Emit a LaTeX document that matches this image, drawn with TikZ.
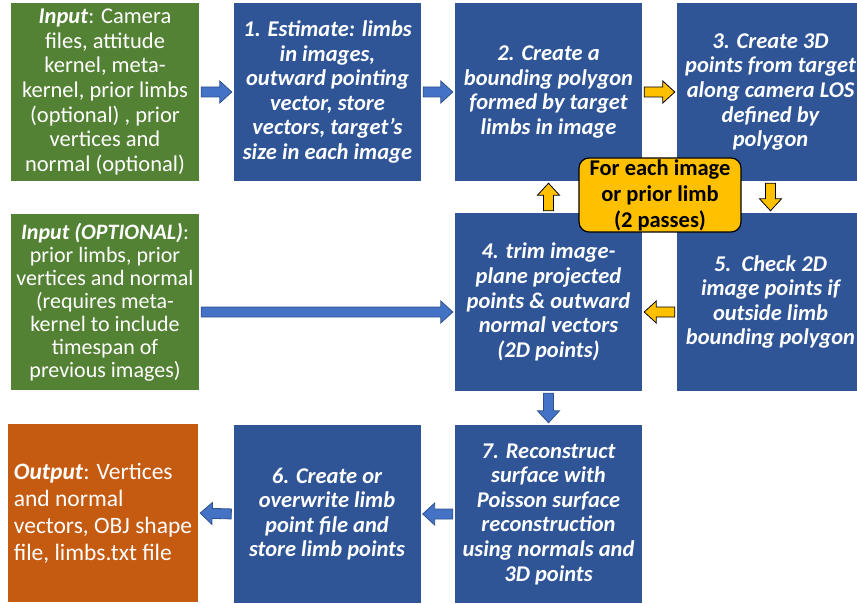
\documentclass[tikz,border=0pt]{standalone}
\usepackage{fontspec}
\setmainfont{Carlito}
\usetikzlibrary{calc}

\definecolor{azulcaixa}{HTML}{2F5597}
\definecolor{verdeentrada}{HTML}{548235}
\definecolor{laranjasaida}{HTML}{C55A11}
\definecolor{amarelo}{HTML}{FFC000}
\definecolor{azulseta}{HTML}{4472C4}
\definecolor{azulborda}{HTML}{2F528F}

\tikzset{
    caixa/.style={rectangle, fill=azulcaixa, text=white, inner sep=0pt,
        minimum width=187pt, minimum height=178pt, align=center,
        font=\bfseries\itshape\fontsize{22.5}{24.6}\selectfont},
    entrada/.style={caixa, fill=verdeentrada, minimum width=188pt,
        font=\fontsize{22.5}{24.6}\selectfont},
    saida/.style={rectangle, fill=laranjasaida, text=white, inner sep=0pt,
        minimum width=190pt, minimum height=178pt, align=left,
        font=\fontsize{23.5}{27}\selectfont},
    laco/.style={rectangle, rounded corners=10pt, fill=amarelo, draw=black,
        line width=1.2pt, minimum width=162pt, minimum height=74pt,
        inner sep=0pt, align=center, font=\bfseries\fontsize{22.5}{26}\selectfont},
    % seta em bloco entre duas caixas
    bloco/.style={to path={
        ($(\tikztostart)!2pt!(\tikztotarget)$) coordinate (ba)
        ($(\tikztotarget)!2pt!(\tikztostart)$) coordinate (bb)
        ($(bb)!12pt!(ba)$) coordinate (bc)
        ($(ba)!5pt!90:(bb)$) -- ($(bc)!5pt!90:(bb)$) -- ($(bc)!11pt!90:(bb)$)
        -- (bb) -- ($(bc)!11pt!-90:(bb)$) -- ($(bc)!5pt!-90:(bb)$)
        -- ($(ba)!5pt!-90:(bb)$) -- cycle}},
    setaazul/.style={bloco, draw=azulborda, fill=azulseta, line width=0.8pt},
    setaamarela/.style={bloco, draw=black, fill=amarelo, line width=0.8pt}
}

\begin{document}
\begin{tikzpicture}[x=1pt, y=-1pt]
    \useasboundingbox (0,0) rectangle (857,604);
    \clip (0,0) rectangle (857,604);

    % Entradas
    \node[entrada] (in1) at (105,92) {\textbf{\textit{Input}}: Camera\\ files, attitude\\ kernel, meta-\\ kernel, prior limbs\\ (optional) , prior\\ vertices and\\ normal (optional)};
    \node[entrada, minimum height=176pt, font=\fontsize{22}{23}\selectfont] (in2) at (105,302) {\textbf{\textit{Input (OPTIONAL)}}:\\ prior limbs, prior\\ vertices and normal\\ (requires meta-\\ kernel to include\\ timespan of\\ previous images)};

    % Passos
    \node[caixa] (s1) at (327.5,92) {1. Estimate: limbs\\ in images,\\ outward pointing\\ vector, store\\ vectors, target’s\\ size in each image};
    \node[caixa] (s2) at (548.5,92) {2. Create a\\ bounding polygon\\ formed by target\\ limbs in image};
    \node[caixa] (s3) at (770.5,92) {3. Create 3D\\ points from target\\ along camera LOS\\ defined by\\ polygon};
    \node[caixa] (s4) at (548.5,302) {4. trim image-\\ plane projected\\ points \& outward\\ normal vectors\\ (2D points)};
    \node[caixa] (s5) at (770.5,302) {5.\ \ Check 2D\\ image points if\\ outside limb\\ bounding polygon};
    \node[caixa] (s6) at (327,514) {6. Create or\\ overwrite limb\\ point file and\\ store limb points};
    \node[caixa] (s7) at (548.5,514) {7. Reconstruct\\ surface with\\ Poisson surface\\ reconstruction\\ using normals and\\ 3D points};

    % Saida
    \node[saida] (out) at (103,513) {\textbf{\textit{Output}}: Vertices\\ and normal\\ vectors, OBJ shape\\ file, limbs.txt file};

    % Setas azuis
    \draw[setaazul] (in1.east) to (s1.west);
    \draw[setaazul] (s1.east) to (s2.west);
    \draw[setaazul] ([yshift=-10pt]in2.east) to ([yshift=-10pt]s4.west);
    \draw[setaazul] (s4.south) to (s7.north);
    \draw[setaazul] (s7.west) to (s6.east);
    \draw[setaazul] (s6.west) to (out.east);

    % Laco por imagem
    \draw[setaamarela] (s2.east) to (s3.west);
    \draw[setaamarela] (s3.south) to (s5.north);
    \draw[setaamarela] ([yshift=-10pt]s5.west) to ([yshift=-10pt]s4.east);
    \draw[setaamarela] (s4.north) to (s2.south);
    \node[laco] (loop) at (660,195) {For each image\\ or prior limb\\ (2 passes)};
\end{tikzpicture}
\end{document}
